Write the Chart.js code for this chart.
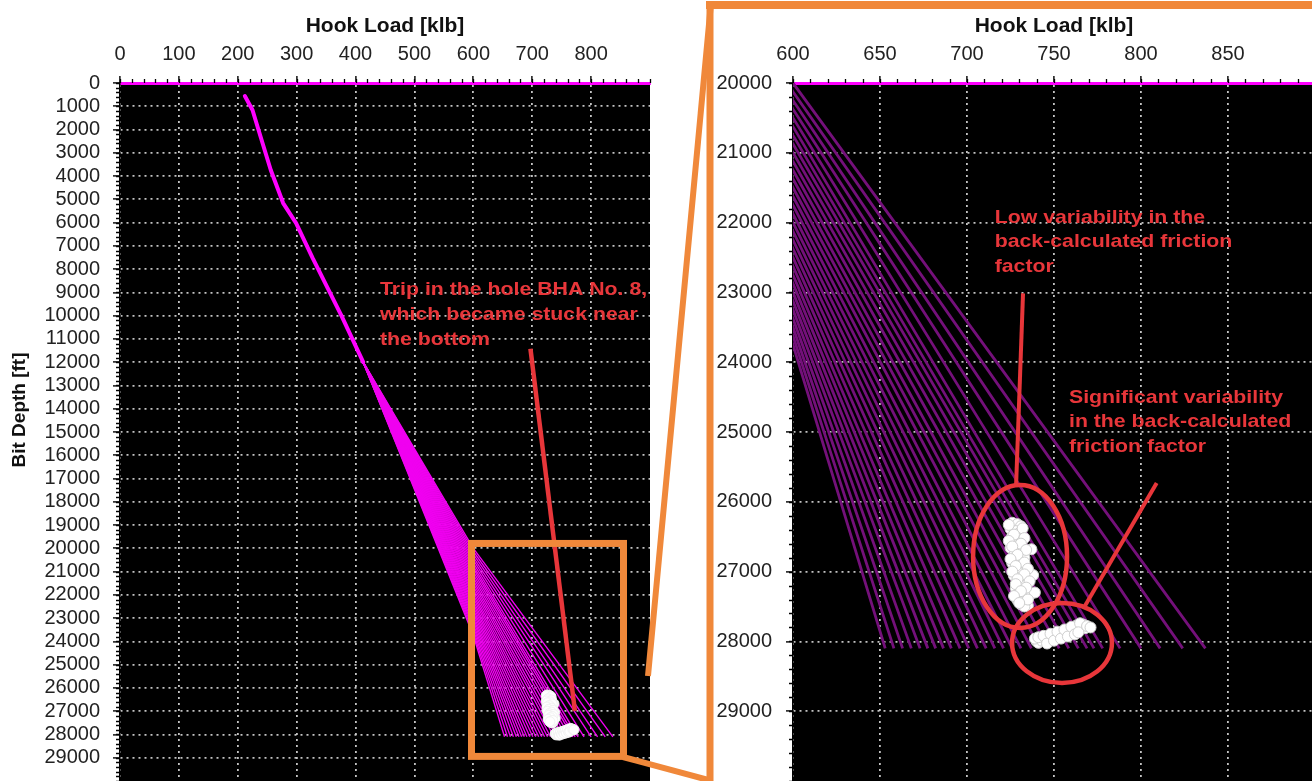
<!DOCTYPE html>
<html>
<head>
<meta charset="utf-8">
<title>Hook Load vs Bit Depth</title>
<script src="https://cdn.jsdelivr.net/npm/chart.js@4.4.1/dist/chart.umd.min.js"></script>
<style>
  html, body { margin: 0; padding: 0; background: #fff; overflow: hidden; width: 1312px; height: 781px; }
  .panel { position: absolute; top: 0; }
  #wrapL { left: 0; width: 700px; height: 820px; }
  #wrapR { left: 700px; width: 640px; height: 820px; }
  #callout { position: absolute; left: 0; top: 0; width: 1312px; height: 781px; pointer-events: none; }
</style>
</head>
<body>
<div class="panel" id="wrapL"><canvas id="fullWell" width="700" height="820"></canvas></div>
<div class="panel" id="wrapR"><canvas id="bottomZoom" width="640" height="820"></canvas></div>
<svg id="callout" width="1312" height="781" viewBox="0 0 1312 781">
  <g stroke="#f0883a" fill="none" stroke-linecap="butt">
    <line x1="648" y1="676" x2="711" y2="3" stroke-width="6"/>
    <line x1="623" y1="757" x2="712" y2="781" stroke-width="6"/>
    <line x1="710" y1="1" x2="710" y2="781" stroke-width="7"/>
    <line x1="706" y1="5" x2="1312" y2="5" stroke-width="8"/>
  </g>
</svg>
<script>
const FONT = '"Liberation Sans", Arial, Helvetica, sans-serif';

// Axis tick values
const loadTicksFull  = [0, 100, 200, 300, 400, 500, 600, 700, 800];
const depthTicksFull = [0, 1000, 2000, 3000, 4000, 5000, 6000, 7000, 8000, 9000,
                        10000, 11000, 12000, 13000, 14000, 15000, 16000, 17000, 18000, 19000,
                        20000, 21000, 22000, 23000, 24000, 25000, 26000, 27000, 28000, 29000];
const loadTicksZoom  = [600, 650, 700, 750, 800, 850];
const depthTicksZoom = [20000, 21000, 22000, 23000, 24000, 25000, 26000, 27000, 28000, 29000];

// Modelled trip-in hook load, common section (bit depth ft, hook load klb)
const trunkDepth = [560, 1160, 2000, 3740, 5160, 6020, 7520, 10000, 12000];
const trunkLoad  = [212, 225, 235, 256, 277, 299, 327, 376, 413];

// Friction-factor sweep below the split: depth at which each curve passes 600 klb,
// and the hook load each curve reaches at the final depth
const fanCrossLoad  = 600;
const fanCrossDepth = [20000, 20125, 20250, 20375, 20500, 20625, 20750, 20875, 21000, 21125,
                       21250, 21375, 21500, 21625, 21750, 21875, 22000, 22125, 22250, 22375,
                       22500, 22625, 22750, 22875, 23000, 23125, 23250, 23375, 23500, 23625, 23750];
const fanEndLoad    = [837, 824, 811, 800, 788, 778, 773, 769, 764, 758.5,
                       753, 747, 742, 737, 731, 726, 721, 716, 711, 706,
                       701, 696, 691, 686.5, 682, 677.5, 673, 668, 663, 658, 653];
const fanEndDepth   = 28100;

// Measured hook load while running BHA No. 8 near bottom: upper stand group
const measLoadUpper  = [726, 729, 731, 725, 728, 730, 726, 729, 732, 727, 730, 725, 728, 731, 727, 733, 729, 726, 731, 728,
                        734, 730, 727, 732, 729, 735, 731, 728, 733, 730, 736, 732, 729, 734, 731, 735, 733, 737, 738, 739,
                        724, 732, 727, 733, 724, 731, 726, 734, 729, 725, 733, 728, 735, 726, 733, 729, 736, 728, 734, 731,
                        727, 735, 730];
const measDepthUpper = [26300, 26320, 26350, 26390, 26420, 26450, 26490, 26520, 26550, 26590, 26620, 26660, 26700, 26730, 26770, 26800, 26840, 26880, 26910, 26950,
                        26980, 27020, 27060, 27090, 27130, 27160, 27200, 27240, 27270, 27310, 27340, 27380, 27410, 27440, 27470, 27490, 27500, 26680, 27050, 27300,
                        26330, 26380, 26470, 26520, 26560, 26600, 26640, 26690, 26760, 26820, 26870, 26920, 26960, 27000, 27040, 27110, 27140, 27180, 27230, 27280,
                        27350, 27400, 27450];
// ...and the group at the final depth
const measLoadLower  = [740, 742, 741, 744, 746, 745, 748, 750, 749, 752, 754, 753, 756, 758, 757, 760, 762, 761, 764, 763,
                        766, 768, 767, 743, 747, 751, 755, 759, 739, 741, 744, 746, 748, 750, 752, 754, 756, 758, 760, 762,
                        765, 764, 769, 771];
const measDepthLower = [28000, 27970, 28020, 27960, 27990, 27940, 27950, 27910, 27960, 27900, 27930, 27880, 27870, 27900, 27850, 27840, 27860, 27810, 27800, 27770,
                        27790, 27810, 27760, 27990, 27920, 27940, 27890, 27820, 27960, 27940, 27920, 28030, 27890, 27990, 27860, 27960, 27830, 27930, 27790, 27900,
                        27740, 27870, 27780, 27800];

const RED = '#e8363a';
const ORANGE = '#f0883a';
const GRID = 'rgba(205,205,205,0.95)';

// Black plotting area
const blackPlot = {
  id: 'blackPlot',
  beforeDraw(chart) {
    const { ctx, chartArea: a } = chart;
    ctx.save();
    ctx.fillStyle = '#000';
    ctx.fillRect(a.left, a.top, a.right - a.left, a.bottom - a.top);
    ctx.restore();
  }
};

// Short minor tick marks on the top and left axes
const minorTicks = {
  id: 'minorTicks',
  afterDraw(chart, args, opts) {
    const { ctx, chartArea: a, scales: { x, y } } = chart;
    ctx.save();
    ctx.strokeStyle = '#000';
    ctx.lineWidth = 1.3;
    ctx.beginPath();
    for (let v = x.min; v <= x.max + 1e-6; v += opts.xStep) {
      const px = Math.round(x.getPixelForValue(v)) + 0.5;
      ctx.moveTo(px, a.top);
      ctx.lineTo(px, a.top - opts.len);
    }
    for (let v = y.min; v <= y.max + 1e-6; v += opts.yStep) {
      const py = Math.round(y.getPixelForValue(v)) + 0.5;
      ctx.moveTo(a.left, py);
      ctx.lineTo(a.left - opts.len, py);
    }
    ctx.stroke();
    ctx.restore();
  }
};

// Rotated depth-axis title
const sideTitle = {
  id: 'sideTitle',
  afterDraw(chart, args, opts) {
    if (!opts.text) return;
    const { ctx } = chart;
    ctx.save();
    ctx.translate(opts.x, opts.y);
    ctx.rotate(-Math.PI / 2);
    ctx.font = `bold ${opts.size}px ${FONT}`;
    ctx.fillStyle = '#111';
    ctx.textAlign = 'center';
    ctx.textBaseline = 'middle';
    ctx.fillText(opts.text, 0, 0);
    ctx.restore();
  }
};

// Callout shapes and notes placed in data coordinates
const notes = {
  id: 'notes',
  afterDraw(chart, args, opts) {
    const { ctx, scales: { x, y } } = chart;
    (opts.items || []).forEach(it => {
      ctx.save();
      ctx.strokeStyle = it.color;
      ctx.fillStyle = it.color;
      ctx.lineWidth = it.width || 4;
      if (it.type === 'line') {
        ctx.lineCap = 'butt';
        ctx.beginPath();
        ctx.moveTo(x.getPixelForValue(it.x1), y.getPixelForValue(it.y1));
        ctx.lineTo(x.getPixelForValue(it.x2), y.getPixelForValue(it.y2));
        ctx.stroke();
      } else if (it.type === 'rect') {
        const x1 = x.getPixelForValue(it.x1), x2 = x.getPixelForValue(it.x2);
        const y1 = y.getPixelForValue(it.y1), y2 = y.getPixelForValue(it.y2);
        ctx.lineJoin = 'miter';
        ctx.strokeRect(x1, y1, x2 - x1, y2 - y1);
      } else if (it.type === 'ellipse') {
        const cx = x.getPixelForValue(it.cx), cy = y.getPixelForValue(it.cy);
        const rx = Math.abs(x.getPixelForValue(it.cx + it.rx) - cx);
        const ry = Math.abs(y.getPixelForValue(it.cy + it.ry) - cy);
        ctx.beginPath();
        ctx.ellipse(cx, cy, rx, ry, it.rot || 0, 0, Math.PI * 2);
        ctx.stroke();
      } else if (it.type === 'text') {
        const px = x.getPixelForValue(it.x), py = y.getPixelForValue(it.y);
        ctx.font = `bold ${it.size}px ${FONT}`;
        ctx.textAlign = 'left';
        ctx.textBaseline = 'alphabetic';
        it.lines.forEach((s, i) => {
          ctx.save();
          ctx.translate(px, py + i * it.gap);
          ctx.scale(it.sx || 1, 1);
          ctx.fillText(s, 0, 0);
          ctx.restore();
        });
      }
      ctx.restore();
    });
  }
};

// The first dataset is painted last, so the measured points go first to sit on top
function buildDatasets(style) {
  const sets = [];
  const split = trunkLoad.length - 1;
  const pointSet = (loads, depths) => ({
    data: loads.map((v, i) => ({ x: v, y: depths[i] })),
    showLine: false, pointRadius: style.markerRadius, pointHoverRadius: style.markerRadius, pointStyle: 'circle',
    borderColor: style.markerEdge, borderWidth: 1, backgroundColor: '#ffffff', clip: false
  });
  sets.push(pointSet(measLoadUpper, measDepthUpper));
  sets.push(pointSet(measLoadLower, measDepthLower));
  sets.push({
    data: trunkDepth.map((d, i) => ({ x: trunkLoad[i], y: d })),
    showLine: true, borderColor: style.trunkColor, borderWidth: style.trunkWidth,
    pointRadius: 0, pointHoverRadius: 0, clip: 0, borderJoinStyle: 'round', borderCapStyle: 'round'
  });
  fanCrossDepth.forEach((d, i) => {
    sets.push({
      data: [
        { x: trunkLoad[split], y: trunkDepth[split] },
        { x: fanCrossLoad, y: d },
        { x: fanEndLoad[i], y: fanEndDepth }
      ],
      showLine: true, borderColor: style.fanColor, borderWidth: style.fanWidth,
      pointRadius: 0, pointHoverRadius: 0, clip: 0, borderJoinStyle: 'round'
    });
  });
  return sets;
}

function makeChart(id, cfg) {
  const tickFont = { family: FONT, size: 20 };
  const plain = v => String(v);
  return new Chart(document.getElementById(id), {
    type: 'scatter',
    data: { datasets: buildDatasets(cfg.style) },
    options: {
      responsive: false,
      animation: false,
      devicePixelRatio: 1,
      events: [],
      layout: { padding: { top: 0, left: 0, right: cfg.padRight, bottom: 39 } },
      plugins: {
        legend: { display: false },
        tooltip: { enabled: false },
        minorTicks: { xStep: cfg.xMinor, yStep: 200, len: 4 },
        sideTitle: cfg.sideTitle || {},
        notes: { items: cfg.notes }
      },
      scales: {
        x: {
          type: 'linear', position: 'top', min: cfg.xMin, max: cfg.xMax,
          afterBuildTicks: s => { s.ticks = cfg.xTicks.map(v => ({ value: v })); },
          afterFit: s => { s.height = 83; },
          ticks: { font: tickFont, color: '#222', padding: 10, maxRotation: 0, autoSkip: false, callback: plain },
          grid: { color: GRID, lineWidth: 1.8, tickColor: '#000', tickLength: 7, tickWidth: 1.4 },
          border: { display: true, color: '#ff00ff', width: 3, dash: [2, 4] },
          title: {
            display: true, text: 'Hook Load [klb]', color: '#111',
            font: { family: FONT, size: 21, weight: 'bold' }, padding: { top: 14, bottom: 0 }
          }
        },
        y: {
          type: 'linear', reverse: true, min: cfg.yMin, max: cfg.yMax,
          afterBuildTicks: s => { s.ticks = cfg.yTicks.map(v => ({ value: v })); },
          afterFit: s => { s.width = cfg.yWidth; },
          ticks: { font: tickFont, color: '#222', padding: cfg.yPad, autoSkip: false, callback: plain },
          grid: { color: GRID, lineWidth: 1.8, tickColor: '#000', tickLength: 7, tickWidth: 1.4 },
          border: { display: true, color: '#000', width: 1.5, dash: [2, 4] }
        }
      }
    },
    plugins: [blackPlot, minorTicks, sideTitle, notes]
  });
}

// Whole well
makeChart('fullWell', {
  xMin: 0, xMax: 900, yMin: 0, yMax: 30000,
  xTicks: loadTicksFull, yTicks: depthTicksFull,
  xMinor: 20, yWidth: 120, yPad: 13, padRight: 50,
  style: { trunkColor: '#ff00ff', trunkWidth: 4, fanColor: '#f000f0', fanWidth: 1.4, markerRadius: 5, markerEdge: '#f2f2f2' },
  sideTitle: { text: 'Bit Depth [ft]', x: 20, y: 410, size: 19 },
  notes: [
    { type: 'text', x: 441.5, y: 9132, gap: 24.7, size: 19, sx: 1.12, color: RED,
      lines: ['Trip in the hole BHA No. 8,', 'which became stuck near', 'the bottom'] },
    { type: 'line', x1: 697, y1: 11420, x2: 772.5, y2: 26990, color: RED, width: 4.5 },
    { type: 'rect', x1: 596.9, y1: 19790, x2: 855, y2: 28943, color: ORANGE, width: 7 }
  ]
});

// Bottom section detail
makeChart('bottomZoom', {
  xMin: 600, xMax: 900, yMin: 20000, yMax: 30000,
  xTicks: loadTicksZoom, yTicks: depthTicksZoom,
  xMinor: 10, yWidth: 93, yPad: 14, padRight: 25,
  style: { trunkColor: '#74107a', trunkWidth: 2.6, fanColor: '#74107a', fanWidth: 2.8, markerRadius: 5.5, markerEdge: '#cfcfcf' },
  notes: [
    { type: 'text', x: 715.9, y: 22010, gap: 24.2, size: 19, sx: 1.12, color: RED,
      lines: ['Low variability in the', 'back-calculated friction', 'factor'] },
    { type: 'text', x: 758.6, y: 24580, gap: 24.5, size: 19, sx: 1.12, color: RED,
      lines: ['Significant variability', 'in the back-calculated', 'friction factor'] },
    { type: 'line', x1: 732.2, y1: 23013, x2: 728.2, y2: 25774, color: RED, width: 4 },
    { type: 'line', x1: 809, y1: 25731, x2: 767.5, y2: 27503, color: RED, width: 4 },
    { type: 'ellipse', cx: 730.5, cy: 26784, rx: 27, ry: 1024, color: RED, width: 4.5 },
    { type: 'ellipse', cx: 754.6, cy: 28023, rx: 28.7, ry: 573, color: RED, width: 4.5 }
  ]
});
</script>
</body>
</html>
